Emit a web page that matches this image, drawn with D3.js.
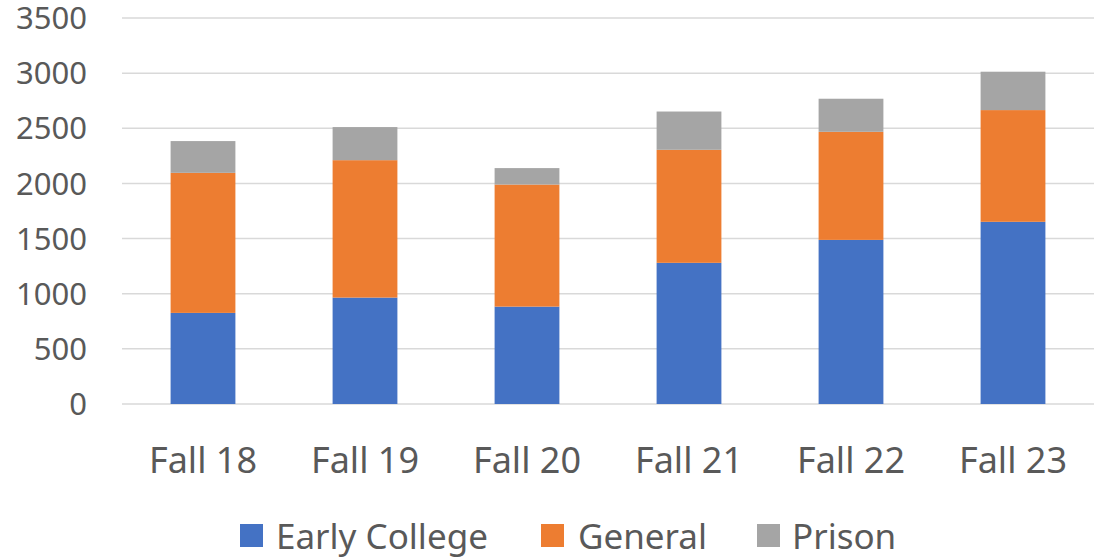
<!DOCTYPE html>
<html lang="en">
<head>
    <meta charset="UTF-8">
    <title>Enrollment by Fall Term</title>
    <script src="https://cdnjs.cloudflare.com/ajax/libs/d3/7.8.5/d3.min.js"></script>
    <style>
        html, body {
            margin: 0;
            padding: 0;
            background: #fff;
        }
        text {
            font-family: "Noto Sans", "Open Sans", sans-serif;
            fill: #595959;
        }
    </style>
</head>
<body>
    <div id="chart"></div>
    <script>
        const terms = ["Fall 18", "Fall 19", "Fall 20", "Fall 21", "Fall 22", "Fall 23"];
        const seriesNames = ["Early College", "General", "Prison"];
        const earlyCollege = [826, 965, 883, 1280, 1488, 1652];
        const general = [1270, 1246, 1107, 1025, 980, 1013];
        const prison = [288, 300, 149, 347, 300, 348];
        const colors = ["#4472C4", "#ED7D31", "#A5A5A5"];
        const yTicks = [0, 500, 1000, 1500, 2000, 2500, 3000, 3500];

        const width = 1094, height = 559;
        const margin = { top: 18, right: 0, bottom: 155, left: 122 };

        const rows = terms.map((t, i) => ({
            term: t,
            "Early College": earlyCollege[i],
            "General": general[i],
            "Prison": prison[i]
        }));
        const stacked = d3.stack().keys(seriesNames)(rows);

        const svg = d3.select("#chart").append("svg")
            .attr("width", width)
            .attr("height", height);

        const x = d3.scaleBand()
            .domain(terms)
            .range([margin.left, width - margin.right])
            .paddingInner(0.6)
            .paddingOuter(0.3);

        const y = d3.scaleLinear()
            .domain([0, 3500])
            .range([height - margin.bottom, margin.top]);

        // gridlines
        svg.append("g")
            .selectAll("line")
            .data(yTicks)
            .join("line")
            .attr("x1", margin.left)
            .attr("x2", width - margin.right)
            .attr("y1", d => y(d))
            .attr("y2", d => y(d))
            .attr("stroke", "#D9D9D9")
            .attr("stroke-width", 1.5);

        // y labels
        svg.append("g")
            .selectAll("text")
            .data(yTicks)
            .join("text")
            .attr("x", 87)
            .attr("y", d => y(d))
            .attr("dy", "0.36em")
            .attr("text-anchor", "end")
            .style("font-size", "31px")
            .text(d => d);

        // bars
        svg.append("g")
            .selectAll("g")
            .data(stacked)
            .join("g")
            .attr("fill", (d, i) => colors[i])
            .selectAll("rect")
            .data(d => d)
            .join("rect")
            .attr("x", d => x(d.data.term))
            .attr("width", x.bandwidth())
            .attr("y", d => y(d[1]))
            .attr("height", d => y(d[0]) - y(d[1]));

        // x labels
        svg.append("g")
            .selectAll("text")
            .data(terms)
            .join("text")
            .attr("x", d => x(d) + x.bandwidth() / 2)
            .attr("y", 473)
            .attr("text-anchor", "middle")
            .style("font-size", "36px")
            .text(d => d);

        // legend
        const legendSwatchX = [240, 541, 757];
        const legendTextX = [276, 578, 792];
        const legend = svg.append("g")
            .selectAll("g")
            .data(seriesNames)
            .join("g");
        legend.append("rect")
            .attr("x", (d, i) => legendSwatchX[i])
            .attr("y", 524)
            .attr("width", 23)
            .attr("height", 23)
            .attr("fill", (d, i) => colors[i]);
        legend.append("text")
            .attr("x", (d, i) => legendTextX[i])
            .attr("y", 549)
            .style("font-size", "35px")
            .text(d => d);
    </script>
</body>
</html>
